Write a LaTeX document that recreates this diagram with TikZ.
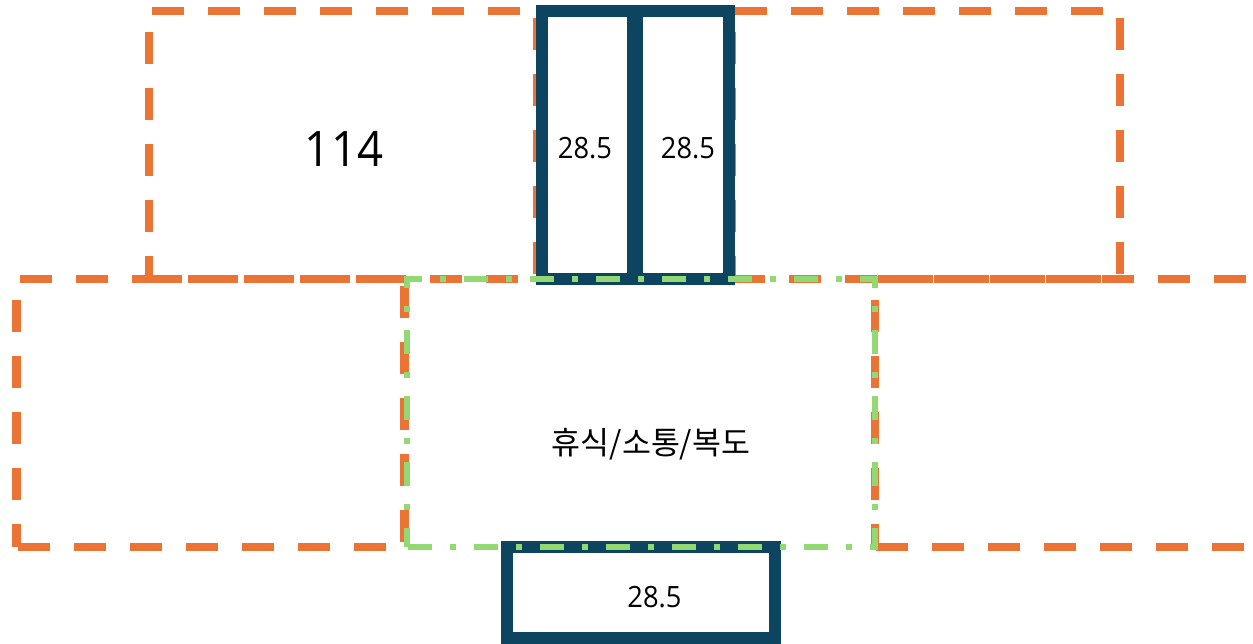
\documentclass[tikz,border=0pt]{standalone}
\usepackage{fontspec}
\setmainfont[FakeStretch=0.93]{Open Sans}
\newfontfamily\krfont{Noto Sans CJK KR}
\definecolor{zoneorange}{HTML}{EB7434}
\definecolor{zonegreen}{HTML}{92D973}
\definecolor{zonenavy}{HTML}{0D4460}
\tikzset{
  zone/.style={draw=zoneorange,line width=6.5pt,dash pattern=on 24pt off 18pt,dash phase=6.75pt},
  rest/.style={draw=zonegreen,line width=4.8pt,dash pattern=on 18pt off 13.5pt on 4.5pt off 13.5pt,dash phase=3.75pt},
  core/.style={draw=zonenavy,line width=9pt},
  bigtext/.style={font=\fontsize{36.7}{42}\selectfont,text=black,inner sep=0pt},
  smalltext/.style={font=\fontsize{22}{26}\selectfont,text=black,inner sep=0pt},
  kortext/.style={font=\krfont\fontsize{23.6}{28}\selectfont,text=black,inner sep=0pt},
}
\begin{document}
\begin{tikzpicture}[x=0.75pt,y=-0.75pt]
\useasboundingbox (0,0) rectangle (1253,643);
\clip (0,0) rectangle (1253,643);
% orange zones (open paths, clockwise from the lower left corner)
\draw[zone] (149,279) -- (149,11) -- (537,11) -- (537,279) -- (149,279);
\draw[zone] (732,279) -- (732,11) -- (1120,11) -- (1120,279) -- (732,279);
\draw[zone] (16.5,547) -- (16.5,279) -- (404.5,279) -- (404.5,547) -- (16.5,547);
\draw[zone] (875,547) -- (875,279) -- (1263,279) -- (1263,547) -- (875,547);
% navy boxes
\draw[core] (542,11) rectangle (633,279);
\draw[core] (637,11) rectangle (729,279);
\draw[core] (507,547) rectangle (775,638);
% green zone
\draw[rest] (407,547) -- (407,279) -- (875,279) -- (875,547) -- (407,547);
% labels
\node[bigtext] (big) at (344,149) {114};
\node[smalltext] (a) at (585,148) {28.5};
\node[smalltext] (b) at (688,148) {28.5};
\node[smalltext] (c) at (654.5,597) {28.5};
\node[kortext] (d) at (651,444.5) {휴식/소통/복도};
\end{tikzpicture}
\end{document}
